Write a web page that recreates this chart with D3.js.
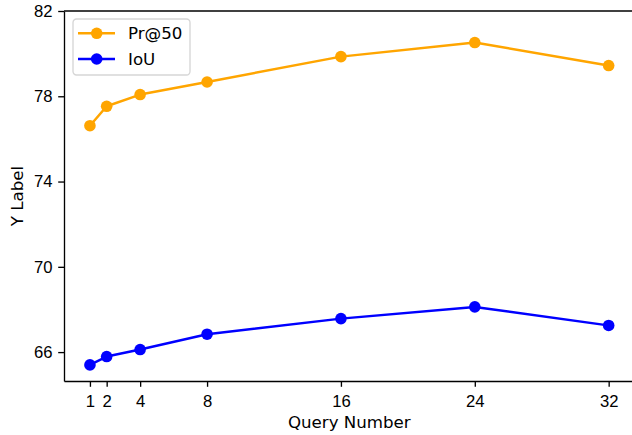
<!DOCTYPE html>
<html>
<head>
<meta charset="utf-8">
<script src="https://cdn.jsdelivr.net/npm/d3@7"></script>
<style>
  body { margin: 0; background: #fff; }
  svg { display: block; font-family: "DejaVu Sans", sans-serif; }
  .axis text { font-size: 16.67px; fill: #000; }
  .axis path, .axis line { stroke: #000; stroke-width: 1.33px; }
</style>
</head>
<body>
<div id="chart"></div>
<script>
// Data
const queryNumbers = [1, 2, 4, 8, 16, 24, 32];
const prAt50 = [76.62, 77.53, 78.08, 78.67, 79.86, 80.52, 79.44];
const iou = [65.40, 65.79, 66.12, 66.84, 67.57, 68.12, 67.25];
const yTicks = [66, 70, 74, 78, 82];
const seriesNames = ['Pr@50', 'IoU'];
const seriesColors = ['orange', 'blue'];

const width = 632, height = 435;
const plot = { left: 64, right: 634.6, top: 11, bottom: 381 };

const svg = d3.select('#chart').append('svg')
  .attr('width', width)
  .attr('height', height);

// matplotlib-like 5% margins on x; y top extended to the 82 tick
const xmin = d3.min(queryNumbers), xmax = d3.max(queryNumbers);
const xpad = (xmax - xmin) * 0.05;
const x = d3.scaleLinear().domain([xmin - xpad, xmax + xpad]).range([plot.left, plot.right]);

const allY = prAt50.concat(iou);
const ylo = d3.min(allY), yhi = d3.max(allY);
const y = d3.scaleLinear().domain([ylo - (yhi - ylo) * 0.05, 82]).range([plot.bottom, plot.top]);

// Axes
const xaxis = d3.axisBottom(x).tickValues(queryNumbers).tickSize(5.8).tickPadding(8).tickSizeOuter(0);
const yaxis = d3.axisLeft(y).tickValues(yTicks).tickSize(5.8).tickPadding(5.8).tickSizeOuter(0);

svg.append('g')
  .attr('class', 'axis')
  .attr('transform', `translate(0, ${plot.bottom})`)
  .call(xaxis);
svg.append('g')
  .attr('class', 'axis')
  .attr('transform', `translate(${plot.left}, 0)`)
  .call(yaxis);

// top and right spines
svg.append('line')
  .attr('x1', plot.left).attr('x2', plot.right)
  .attr('y1', plot.top).attr('y2', plot.top)
  .attr('stroke', '#000').attr('stroke-width', 1.33);
svg.append('line')
  .attr('x1', plot.right).attr('x2', plot.right)
  .attr('y1', plot.top).attr('y2', plot.bottom)
  .attr('stroke', '#000').attr('stroke-width', 1.33);

// Axis labels
svg.append('text')
  .attr('x', (plot.left + plot.right) / 2)
  .attr('y', 428)
  .attr('text-anchor', 'middle')
  .attr('font-size', '16.67px')
  .text('Query Number');
svg.append('text')
  .attr('transform', `translate(22.5, ${(plot.top + plot.bottom) / 2}) rotate(-90)`)
  .attr('text-anchor', 'middle')
  .attr('font-size', '16.67px')
  .text('Y Label');

// Lines and markers
const series = [prAt50, iou];
const line = d3.line().x((d, i) => x(queryNumbers[i])).y(d => y(d));

series.forEach((vals, s) => {
  svg.append('path')
    .datum(vals)
    .attr('d', line)
    .attr('fill', 'none')
    .attr('stroke', seriesColors[s])
    .attr('stroke-width', 2.5)
    .attr('stroke-linejoin', 'round')
    .attr('stroke-linecap', 'square');
  svg.selectAll(`.dot${s}`)
    .data(vals)
    .enter()
    .append('circle')
    .attr('class', `dot${s}`)
    .attr('cx', (d, i) => x(queryNumbers[i]))
    .attr('cy', d => y(d))
    .attr('r', 5.8)
    .attr('fill', seriesColors[s]);
});

// Legend
const legend = svg.append('g').attr('transform', 'translate(73, 19)');
legend.append('rect')
  .attr('width', 117).attr('height', 56)
  .attr('rx', 3.5)
  .attr('fill', '#fff').attr('fill-opacity', 0.8)
  .attr('stroke', '#d6d6d6').attr('stroke-width', 1.33);
seriesNames.forEach((name, i) => {
  const ly = 14.3 + i * 25.7;
  legend.append('line')
    .attr('x1', 5).attr('x2', 42)
    .attr('y1', ly).attr('y2', ly)
    .attr('stroke', seriesColors[i]).attr('stroke-width', 2.5);
  legend.append('circle')
    .attr('cx', 23.7).attr('cy', ly).attr('r', 5.8)
    .attr('fill', seriesColors[i]);
  legend.append('text')
    .attr('x', 55).attr('y', ly + 6)
    .attr('font-size', '16.67px')
    .text(name);
});
</script>
</body>
</html>
